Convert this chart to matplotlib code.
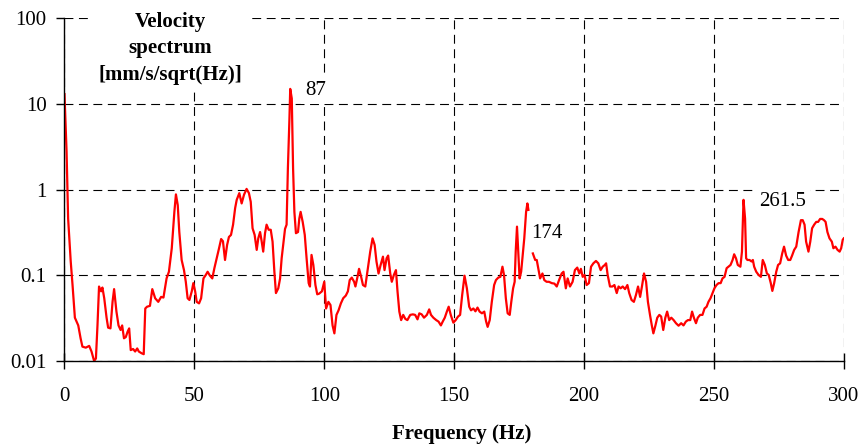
import numpy as np
import matplotlib
matplotlib.use("Agg")
import matplotlib.pyplot as plt

plt.rcParams['font.family'] = ['Liberation Serif', 'DejaVu Serif']

# Velocity spectrum (NaN = break in the trace)
freq = [0, 0.8, 1.4, 2.4, 3.1, 4.0, 5.3, 6.2, 6.9, 8.2, 9.5, 10.4, 11.4, 12.1, 12.7, 13.3,
        14.1, 14.6, 15.3, 16.2, 16.8, 17.7, 18.5, 19.1, 20.0, 20.8, 21.6, 22.2, 22.9, 23.6,
        24.3, 24.9, 25.5, 26.4, 27.2, 28.0, 28.6, 29.7, 30.5, 31.1, 31.8, 32.9, 33.8, 34.9,
        36.1, 37.2, 38.1, 39.3, 40.2, 41.3, 42.3, 42.9, 43.6, 44.2, 45.1, 46.0, 46.7, 47.4,
        48.1, 49.0, 49.6, 50.3, 50.9, 51.8, 52.6, 53.5, 54.4, 55.1, 56.0, 56.9, 57.7, 58.6,
        59.5, 60.3, 61.0, 61.8, 62.6, 63.3, 64.1, 64.9, 65.7, 66.3, 67.3, 68.2, 69.1, 70.1,
        71.0, 71.7, 72.4, 73.2, 74.0, 74.6, 75.3, 75.9, 76.5, 77.2, 77.8, 78.6, 79.4, 80.1,
        80.8, 81.4, 82.3, 83.0, 83.6, 84.2, 84.9, 85.5, 86.0, 86.6, 86.9, 87.5, 88.0, 88.5,
        89.1, 89.9, 90.4, 90.9, 91.7, 92.5, 93.2, 94.0, 94.5, 95.1, 95.8, 96.6, 97.3, 98.0,
        99.1, 100.0, 100.7, 101.6, 102.4, 103.2, 103.9, 104.7, 105.5, 106.4, 107.3, 108.3,
        109.1, 109.8, 110.6, 111.5, 112.0, 112.8, 113.4, 114.2, 114.9, 115.8, 116.8, 117.7,
        118.6, 119.4, 120.1, 120.9, 121.7, 122.6, 123.2, 124.0, 124.6, 125.4, 126.0, 126.8,
        127.6, 128.2, 128.9, 129.6, 130.4, 131.2, 132.0, 133.1, 134.1, 135.0, 135.9, 136.6,
        137.5, 138.4, 139.5, 140.4, 141.1, 142.0, 143.1, 144.0, 144.9, 145.6, 146.4, 147.2,
        147.9, 148.7, 149.7, 150.6, 151.5, 152.3, 153.1, 154.0, 154.9, 155.8, 156.5, 157.4,
        158.2, 159.0, 159.8, 160.7, 161.6, 162.3, 162.9, 163.7, 164.5, 165.4, 166.1, 167.0,
        167.8, 168.6, 169.2, 169.9, 170.6, 171.4, 172.0, 172.7, 173.3, 173.7, 174.2, 174.7,
        175.2, 175.8, 176.4, 177.0, 177.7, 178.2, 178.6, 179.4, 180.3, 181.2, 181.8, 182.4,
        183.1, 184.0, 184.7, 185.6, 186.5, 187.6, 188.6, 189.5, 190.4, 191.4, 192.1, 193.0,
        193.7, 194.6, 195.6, 196.5, 197.4, 198.2, 198.8, 199.5, 200.2, 201.0, 201.9, 202.7,
        203.6, 204.6, 205.5, 206.4, 207.2, 208.0, 208.5, 209.1, 210.0, 210.9, 211.7, 212.6,
        213.3, 214.1, 214.9, 215.8, 216.7, 217.4, 218.3, 219.2, 220.0, 220.8, 221.6, 222.3,
        223.1, 223.9, 224.6, 225.4, 226.1, 226.7, 227.5, 228.2, 229.0, 229.7, 230.5, 231.3,
        232.0, 232.8, 233.6, 234.5, 235.4, 236.4, 237.4, 238.3, 239.2, 240.0, 240.9, 241.6,
        242.3, 243.1, 243.8, 244.7, 245.6, 246.4, 247.2, 247.9, 248.7, 249.5, 250.2, 251.0,
        251.8, 252.6, 253.3, 254.1, 254.9, 255.6, 256.4, 257.2, 257.8, 258.5, 259.2, 260.2,
        260.8, 261.4, 262.0, 262.4, 262.9, 263.7, 264.5, 265.0, 265.5, 266.3, 267.2, 268.1,
        268.8, 269.6, 270.4, 271.1, 271.9, 272.5, 273.2, 274.0, 274.7, 275.5, 276.3, 277.0,
        277.8, 278.6, 279.4, 280.1, 280.9, 281.7, 282.6, 283.5, 284.2, 284.9, 285.5, 286.4,
        287.1, 287.8, 288.6, 289.4, 290.1, 290.9, 291.7, 292.4, 293.0, 293.7, 294.5, 295.4,
        296.0, 296.8, 297.6, 298.4, 299.0, 299.6, 300.0]
vel = [13.0, 2.8, 0.46, 0.145, 0.077, 0.032, 0.026, 0.0184, 0.0147, 0.0143, 0.0150, 0.0129, 0.0100, 0.0107, 0.026, 0.074,
       0.065, 0.072, 0.054, 0.032, 0.0245, 0.024, 0.049, 0.069, 0.0377, 0.026, 0.023, 0.026, 0.0184, 0.019,
       0.022, 0.024, 0.0134, 0.0138, 0.0129, 0.014, 0.0129, 0.0123, 0.012, 0.041, 0.043, 0.044, 0.069, 0.054,
       0.049, 0.056, 0.055, 0.092, 0.110, 0.207, 0.55, 0.88, 0.66, 0.32, 0.151, 0.115, 0.084, 0.054,
       0.0515, 0.065, 0.081, 0.065, 0.049, 0.047, 0.054, 0.092, 0.101, 0.110, 0.099, 0.092, 0.121, 0.158,
       0.207, 0.265, 0.25, 0.151, 0.226, 0.28, 0.296, 0.39, 0.61, 0.76, 0.91, 0.69, 0.87, 1.02,
       0.91, 0.72, 0.354, 0.296, 0.198, 0.27, 0.32, 0.25, 0.189, 0.31, 0.39, 0.34, 0.34, 0.247,
       0.11, 0.062, 0.0705, 0.092, 0.158, 0.226, 0.348, 0.39, 1.77, 6.8, 15.0, 11.6, 1.77, 0.55,
       0.31, 0.32, 0.46, 0.55, 0.42, 0.296, 0.158, 0.081, 0.074, 0.173, 0.132, 0.077, 0.06, 0.061,
       0.065, 0.084, 0.041, 0.049, 0.045, 0.026, 0.021, 0.0345, 0.039, 0.047, 0.054, 0.058,
       0.065, 0.088, 0.094, 0.084, 0.074, 0.096, 0.119, 0.096, 0.077, 0.074, 0.12, 0.189,
       0.27, 0.226, 0.145, 0.105, 0.132, 0.165, 0.115, 0.158, 0.17, 0.105, 0.084, 0.101,
       0.115, 0.065, 0.0377, 0.030, 0.0345, 0.031, 0.030, 0.0345, 0.035, 0.0345, 0.0306, 0.036,
       0.035, 0.032, 0.0345, 0.040, 0.0345, 0.032, 0.030, 0.0288, 0.026, 0.0288, 0.032, 0.0377,
       0.043, 0.0345, 0.028, 0.030, 0.033, 0.0345, 0.059, 0.099, 0.0705, 0.043, 0.039, 0.041,
       0.038, 0.042, 0.0377, 0.036, 0.0377, 0.029, 0.025, 0.030, 0.049, 0.077, 0.088, 0.094,
       0.096, 0.126, 0.101, 0.054, 0.036, 0.0345, 0.049, 0.0705, 0.084, 0.189, 0.37, 0.189,
       0.092, 0.110, 0.173, 0.27, 0.55, 0.69, 0.58, np.nan, 0.18, 0.151, 0.151, 0.121,
       0.092, 0.105, 0.088, 0.084, 0.084, 0.081, 0.080, 0.074, 0.088, 0.105, 0.110, 0.0705,
       0.092, 0.074, 0.084, 0.115, 0.123, 0.105, 0.119, 0.096, 0.101, 0.077, 0.081, 0.126,
       0.138, 0.147, 0.138, 0.115, 0.126, 0.132, 0.138, 0.101, 0.074, 0.074, 0.077, 0.062,
       0.074, 0.0705, 0.074, 0.069, 0.077, 0.062, 0.0515, 0.049, 0.059, 0.074, 0.056, 0.074,
       0.105, 0.084, 0.049, 0.0345, 0.026, 0.021, 0.026, 0.032, 0.0345, 0.033, 0.023, 0.032,
       0.0377, 0.030, 0.032, 0.030, 0.0276, 0.0258, 0.0276, 0.026, 0.0288, 0.030, 0.030, 0.0377,
       0.032, 0.0276, 0.032, 0.0345, 0.0345, 0.041, 0.043, 0.049, 0.054, 0.062, 0.0705, 0.077,
       0.081, 0.081, 0.092, 0.096, 0.121, 0.126, 0.132, 0.151, 0.176, 0.158, 0.132, 0.126,
       0.189, 0.76, 0.46, 0.158, 0.151, 0.151, 0.145, 0.151, 0.126, 0.11, 0.101, 0.096,
       0.151, 0.132, 0.105, 0.101, 0.081, 0.0657, 0.081, 0.11, 0.132, 0.138, 0.18, 0.216,
       0.17, 0.151, 0.151, 0.17, 0.198, 0.216, 0.32, 0.44, 0.44, 0.39, 0.247, 0.189,
       0.247, 0.354, 0.39, 0.42, 0.42, 0.455, 0.455, 0.44, 0.42, 0.32, 0.27, 0.247,
       0.207, 0.216, 0.198, 0.189, 0.207, 0.26, 0.27]

xticks = [0, 50, 100, 150, 200, 250, 300]
yticks = [0.01, 0.1, 1, 10, 100]
ytick_labels = ["0.01", "0.1", "1", "10", "100"]

# peak labels: (text, x, y)
peak_labels = [("87", 96.6, 14.5), ("174", 185.8, 0.31), ("261.5", 276.3, 0.73)]

fig = plt.figure(figsize=(8.61, 4.44), dpi=100)
ax = fig.add_axes([0.0749, 0.187, 0.9051, 0.7718])

ax.plot(freq, vel, color="red", lw=1.6, zorder=3)
ax.set_yscale("log")
ax.set_xlim(0, 300)
ax.set_ylim(0.01, 100)
ax.set_xticks(xticks)
ax.set_xticklabels([str(t) for t in xticks])
ax.set_yticks(yticks)
ax.set_yticklabels(ytick_labels)
ax.minorticks_off()
ax.tick_params(axis="x", direction="inout", length=11, width=1, pad=13, labelsize=15)
ax.tick_params(axis="y", direction="out", length=6, width=1, pad=7, labelsize=15)

ax.grid(True, color="black", lw=0.8, linestyle=(0, (8, 5)))
for s in ["top", "right"]:
    ax.spines[s].set_visible(False)
for s in ["left", "bottom"]:
    ax.spines[s].set_linewidth(1.0)
    ax.spines[s].set_zorder(4)

ax.set_xlabel("Frequency (Hz)", fontsize=15, fontweight="bold")
ax.xaxis.set_label_coords(0.5095, -0.184)

for txt, x, y in peak_labels:
    ax.text(x, y, txt, fontsize=15, ha="center", va="center", zorder=5,
            bbox=dict(facecolor="white", edgecolor="none", pad=3))

fig.text(0.1974, 0.891, "Velocity\nspectrum\n[mm/s/sqrt(Hz)]", fontsize=15,
         fontweight="bold", ha="center", va="center", multialignment="center",
         linespacing=1.45, zorder=5,
         bbox=dict(facecolor="white", edgecolor="none", pad=4))

fig.savefig("out.png", dpi=100)
